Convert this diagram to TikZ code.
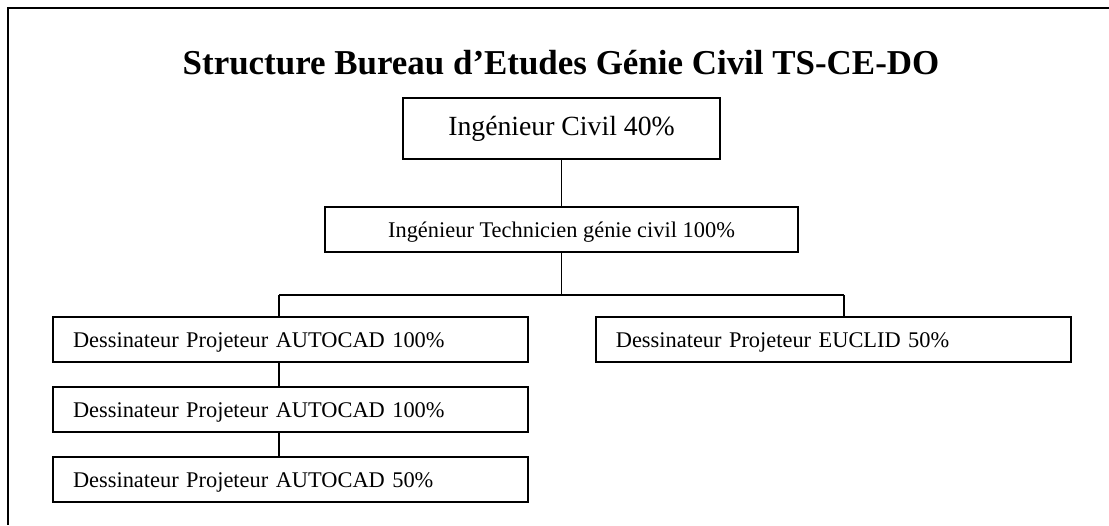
\documentclass[tikz,border=0pt]{standalone}
\usepackage{fontspec}
\setmainfont{Liberation Serif}
\usepackage{tikz}
\usetikzlibrary{positioning,calc}
\tikzset{
  orgbox/.style args={#1,#2}{
  draw=black,
  line width=1.4pt,
  inner sep=0pt,
  minimum width=#1,
  minimum height=#2,
  },
  headbox/.style={orgbox={237.75pt,45.75pt},
    font=\fontsize{20.8pt}{24pt}\selectfont,
    text height=14.6pt,text depth=4.6pt},
  midbox/.style={orgbox={354.75pt,33.75pt},
    font=\fontsize{16.8pt}{20pt}\selectfont,
    text height=12.6pt,text depth=0pt},
  leftbox/.style={orgbox={356.25pt,33.75pt},
    text width=326.25pt,align=left,inner xsep=15pt,
    font=\fontsize{16.8pt}{20pt}\selectfont,
    text height=12.6pt,text depth=0pt},
  titletext/.style={font=\fontsize{26.2pt}{30pt}\selectfont\bfseries,anchor=base,inner sep=0pt},
  link/.style={line width=1.4pt},
}

\begin{document}
\begin{tikzpicture}[x=0.75pt,y=-0.75pt]

  \useasboundingbox (0,0) rectangle (1109,525);
  \draw[line width=1.5pt] (1109,8) -- (8,8) -- (8,525);

  \node [titletext] (title) at (561,74) {Structure Bureau d’Etudes Génie Civil TS-CE-DO};

  \node [headbox] (ing) at (561.5,128.5) {Ingénieur Civil 40\%};
  \node [midbox,below=34.5pt of ing] (tech) {Ingénieur Technicien génie civil 100\%};

  \node [leftbox] (auto1) at (290.5,339.5) {Dessinateur Projeteur AUTOCAD 100\%};
  \node [leftbox,below=17.25pt of auto1] (auto2) {Dessinateur Projeteur AUTOCAD 100\%};
  \node [leftbox,below=17.25pt of auto2] (auto3) {Dessinateur Projeteur AUTOCAD 50\%};
  \node [leftbox,right=49.5pt of auto1] (eucl) {Dessinateur Projeteur EUCLID 50\%};

  \coordinate (jl) at (279,295);
  \coordinate (jr) at (844,295);

  \draw [link] (ing) -- (tech);
  \draw [link] (tech.south) -- (tech.south |- jl);
  \draw [link] (jl) -- (jr);
  \draw [link] (jl) -- (jl |- auto1.north);
  \draw [link] (jr) -- (jr |- eucl.north);
  \draw [link] (auto1.south -| jl) -- (auto2.north -| jl);
  \draw [link] (auto2.south -| jl) -- (auto3.north -| jl);
\end{tikzpicture}
\end{document}
